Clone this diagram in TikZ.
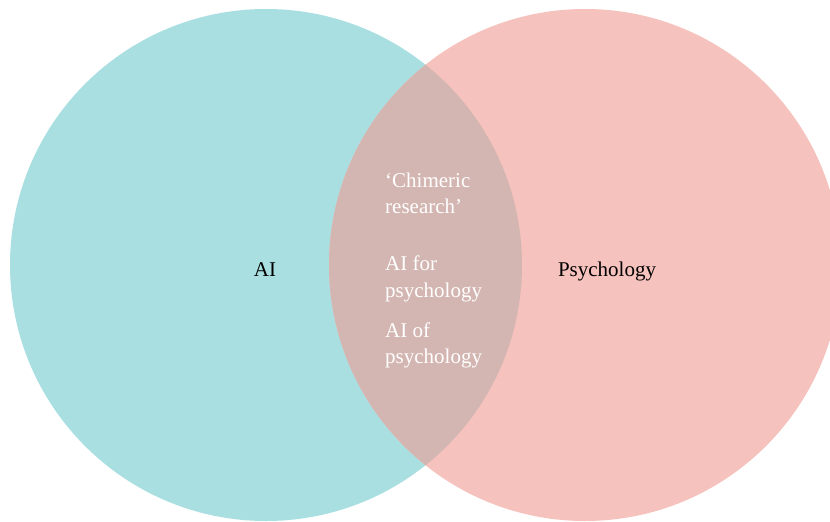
\documentclass[tikz,border=0pt]{standalone}
\usepackage{fontspec}
\setmainfont{Liberation Serif}
\definecolor{aiblue}{RGB}{170,223,226}
\definecolor{psypink}{RGB}{246,194,189}
\definecolor{overlapcol}{RGB}{211,182,177}
\begin{document}
\begin{tikzpicture}[x=1pt,y=-1pt,
  lbl/.style={inner sep=0pt,font=\fontsize{21}{25}\selectfont},
  outer/.style={lbl,anchor=base,text=black},
  inner/.style={lbl,anchor=base west,text=white}]
  \useasboundingbox (0,0) rectangle (830,522);
  % the two sets
  \fill[aiblue] (266,265) circle[radius=256];
  \fill[psypink] (585,265) circle[radius=256];
  % their intersection
  \begin{scope}
    \clip (266,265) circle[radius=256];
    \fill[overlapcol] (585,265) circle[radius=256];
  \end{scope}
  % set labels
  \node[outer] (ai) at (265,276) {AI};
  \node[outer] (psy) at (607,276) {Psychology};
  % intersection labels
  \node[inner] (chim1) at (385,187) {‘Chimeric};
  \node[inner] (chim2) at (385,213) {research’};
  \node[inner] (for1) at (385,270) {AI for};
  \node[inner] (for2) at (385,297) {psychology};
  \node[inner] (of1) at (385,337) {AI of};
  \node[inner] (of2) at (385,363) {psychology};
\end{tikzpicture}
\end{document}
